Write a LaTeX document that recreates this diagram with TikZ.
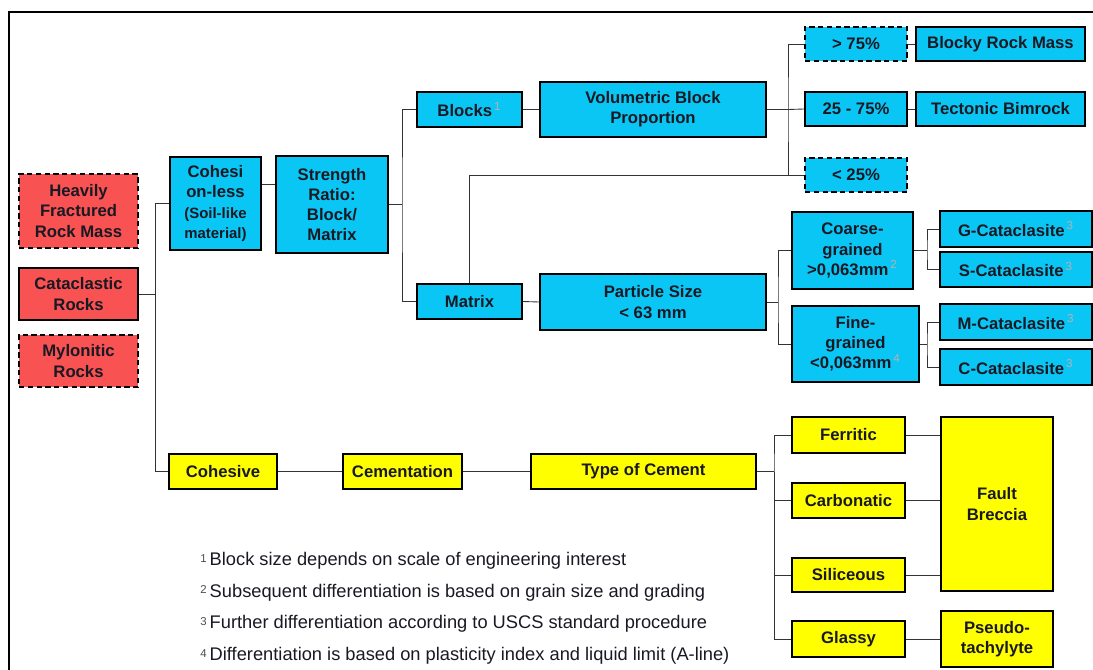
\documentclass[tikz,border=0pt]{standalone}
\usepackage{fontspec}
\setmainfont{Liberation Sans}
\usepackage{tikz}
\definecolor{rockred}{RGB}{248,82,82}
\definecolor{cohcyan}{RGB}{10,198,245}
\definecolor{cemyellow}{RGB}{255,255,0}
\definecolor{boxtext}{RGB}{25,25,35}
\newdimen\px \px=0.02cm
\newcommand{\fnum}[1]{\textsuperscript{\,\color{white!70!black}\mdseries#1}}
\newcommand{\fnmark}[1]{\raisebox{0.35ex}{\fontsize{6.5}{6.5}\selectfont\color{black!70}#1}\,}
\newcommand{\smalltxt}{\fontsize{8.5}{9.5}\selectfont}

\begin{document}
\begin{tikzpicture}[x=0.02cm,y=-0.02cm,
    box/.style={draw=black, line width=1.1pt, align=center, inner sep=1pt,
      font=\fontsize{9.5}{11.5}\selectfont\bfseries, text=boxtext},
    redbox/.style={box, fill=rockred},
    bluebox/.style={box, fill=cohcyan},
    yellowbox/.style={box, fill=cemyellow},
    open/.style={dash pattern=on 3pt off 2pt},
    sz/.style 2 args={minimum width=#1\px, minimum height=#2\px},
    link/.style={draw=black!80, line width=0.5pt}]
      \useasboundingbox (0,0) rectangle (1093,670);
      \draw[line width=1.2pt] (9,680) -- (9,12) -- (1100,12);

      % rock types
      \node[redbox, open, sz={119}{74}] (hfr) at (78.5,211) {Heavily\\Fractured\\Rock Mass};
      \node[redbox, sz={119}{52}] (cat) at (78.5,294) {Cataclastic\\Rocks};
      \node[redbox, open, sz={119}{52}] (myl) at (78.5,361) {Mylonitic\\Rocks};

      % cohesionless branch
      \node[bluebox, sz={91}{93}] (cohl) at (215.5,203.5) {Cohesi\\on-less\\{\smalltxt (Soil-like}\\{\smalltxt material)}};
      \node[bluebox, sz={112}{97}] (str) at (332,204.5) {Strength\\Ratio:\\Block/\\Matrix};
      \node[bluebox, sz={105}{35}] (blk) at (469.5,109.5) {Blocks\fnum{1}};
      \node[bluebox, sz={105}{35}] (mat) at (469.5,301.5) {Matrix};
      \node[bluebox, sz={226}{55}] (vbp) at (653,109.5) {Volumetric Block\\Proportion};
      \node[bluebox, sz={226}{56}] (psz) at (653,302) {Particle Size\\< 63 mm};
      \node[bluebox, open, sz={102}{34}] (p75) at (856,44) {> 75\%};
      \node[bluebox, sz={102}{34}] (p2575) at (856,109) {25 - 75\%};
      \node[bluebox, open, sz={102}{34}] (p25) at (856,175) {< 25\%};
      \node[bluebox, sz={169}{34}] (brm) at (1000.5,44) {Blocky Rock Mass};
      \node[bluebox, sz={169}{34}] (tbr) at (1000.5,109) {Tectonic Bimrock};
      \node[bluebox, sz={121}{77}] (crs) at (852.5,250.5) {Coarse-\\grained\\>0,063mm\fnum{2}};
      \node[bluebox, sz={127}{76}] (fin) at (855.5,344) {Fine-\\grained\\<0,063mm\fnum{4}};
      \node[bluebox, sz={152}{36}] (gcat) at (1016,229) {G-Cataclasite\fnum{3}};
      \node[bluebox, sz={152}{35}] (scat) at (1016,269.5) {S-Cataclasite\fnum{3}};
      \node[bluebox, sz={152}{36}] (mcat) at (1016,322) {M-Cataclasite\fnum{3}};
      \node[bluebox, sz={152}{36}] (ccat) at (1016,367) {C-Cataclasite\fnum{3}};

      % cohesive branch
      \node[yellowbox, sz={108}{35}] (coh) at (223,471.5) {Cohesive};
      \node[yellowbox, sz={119}{35}] (cem) at (402.5,471.5) {Cementation};
      \node[yellowbox, sz={225}{35}] (toc) at (643.5,471.5) {Type of Cement};
      \node[yellowbox, sz={113}{36}] (fer) at (848.5,435) {Ferritic};
      \node[yellowbox, sz={113}{35}] (carb) at (848.5,500.5) {Carbonatic};
      \node[yellowbox, sz={113}{34}] (sil) at (848.5,575) {Siliceous};
      \node[yellowbox, sz={113}{36}] (gla) at (848.5,639) {Glassy};
      \node[yellowbox, sz={112}{174}] (fbr) at (997,504) {Fault\\Breccia};
      \node[yellowbox, sz={112}{56}] (pst) at (997,639) {Pseudo-\\tachylyte};

      % junctions
      \coordinate (j1) at (155,471.5);
      \coordinate (j2) at (402,204.5);
      \coordinate (j3) at (788,109.5);
      \coordinate (j4) at (778,302);
      \coordinate (j5) at (927,250.5);
      \coordinate (j6) at (927,344);
      \coordinate (j7) at (774,471.5);

      \draw[link] (cohl.west) -| (j1) -- (coh.west);
      \draw[link] (cat.east) -- (cat.east -| j1);
      \draw[link] (cohl.east |- 0,184) -- (str.west |- 0,184);
      \draw[link] (str.east) -- (j2);
      \draw[link] (blk.west) -| (j2) |- (mat.west);
      \draw[link] (blk.east) -- (vbp.west);
      \draw[link] (mat.east) -- (psz.west);
      \draw[link] (mat.north) |- (p25.west);
      \draw[link] (vbp.east) -- (j3);
      \draw[link] (p75.west) -| (j3) |- (p25.west);
      \draw[link] (j3) -- (p2575.west);
      \draw[link] (p75.east) -- (brm.west);
      \draw[link] (p2575.east) -- (tbr.west);
      \draw[link] (psz.east) -- (j4);
      \draw[link] (crs.west) -| (j4) |- (fin.west);
      \draw[link] (crs.east) -- (j5);
      \draw[link] (gcat.west) -| (j5) |- (scat.west);
      \draw[link] (fin.east) -- (j6);
      \draw[link] (mcat.west) -| (j6) |- (ccat.west);
      \draw[link] (coh.east) -- (cem.west);
      \draw[link] (cem.east) -- (toc.west);
      \draw[link] (toc.east) -- (j7);
      \draw[link] (fer.west) -| (j7) |- (gla.west);
      \draw[link] (j7) |- (carb.west);
      \draw[link] (j7) |- (sil.west);
      \draw[link] (fer.east) -- (fer.east -| fbr.west);
      \draw[link] (carb.east) -- (carb.east -| fbr.west);
      \draw[link] (sil.east) -- (sil.east -| fbr.west);
      \draw[link] (gla.east) -- (pst.west);

      % footnotes
      \begin{scope}[every node/.style={anchor=west, inner sep=0pt, font=\fontsize{10.4}{12}\selectfont, text=boxtext}]
        \node (fn1) at (200,561) {\fnmark{1}Block size depends on scale of engineering interest};
        \node (fn2) at (200,592.5) {\fnmark{2}Subsequent differentiation is based on grain size and grading};
        \node (fn3) at (200,624) {\fnmark{3}Further differentiation according to USCS standard procedure};
        \node (fn4) at (200,656) {\fnmark{4}Differentiation is based on plasticity index and liquid limit (A-line)};
      \end{scope}
    \end{tikzpicture}
\end{document}
